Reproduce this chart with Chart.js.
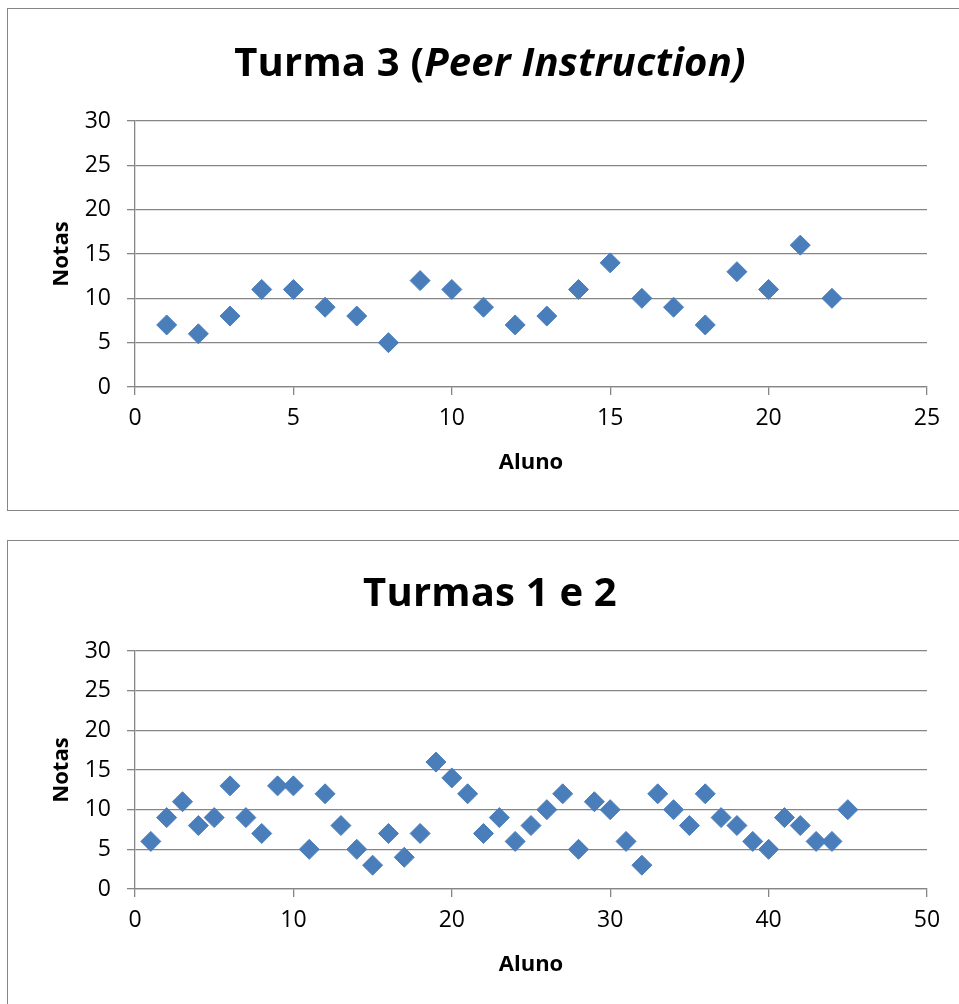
<!DOCTYPE html>
<html>
<head>
<meta charset="utf-8">
<script src="https://cdn.jsdelivr.net/npm/chart.js@4/dist/chart.umd.min.js"></script>
<style>
  html, body { margin: 0; padding: 0; background: #fff; width: 959px; height: 1004px; overflow: hidden; }
  .box { position: absolute; left: 7px; border: 1px solid #868686; background: #fff; width: 1000px; }
  #box1 { top: 8px; height: 501px; }
  #box2 { top: 540px; height: 480px; }
  .box canvas { position: absolute; left: 0; top: 0; }
  .title { position: absolute; left: 0; width: 980px; text-align: center; font-family: "Open Sans", sans-serif; font-weight: 700; font-size: 40px; color: #000; line-height: 1; white-space: nowrap; letter-spacing: 0.2px; }
  #t1 { top: 41px; }
  #t2 { top: 571px; }
</style>
</head>
<body>
<div class="box" id="box1"><canvas id="c1" width="1000" height="500"></canvas></div>
<div class="box" id="box2"><canvas id="c2" width="1000" height="463"></canvas></div>
<div class="title" id="t1">Turma 3 (<i>Peer Instruction)</i></div>
<div class="title" id="t2">Turmas 1 e 2</div>
<script>
// Turma 3 (Peer Instruction)
const turma3Alunos = [1,2,3,4,5,6,7,8,9,10,11,12,13,14,15,16,17,18,19,20,21,22];
const turma3Notas  = [7,6,8,11,11,9,8,5,12,11,9,7,8,11,14,10,9,7,13,11,16,10];

// Turmas 1 e 2
const turmas12Alunos = [1,2,3,4,5,6,7,8,9,10,11,12,13,14,15,16,17,18,19,20,21,22,23,24,25,26,27,28,29,30,31,32,33,34,35,36,37,38,39,40,41,42,43,44,45];
const turmas12Notas  = [6,9,11,8,9,13,9,7,13,13,5,12,8,5,3,7,4,7,16,14,12,7,9,6,8,10,12,5,11,10,6,3,12,10,8,12,9,8,6,5,9,8,6,6,10];

const yTicks = { min: 0, max: 30, step: 5 };
const xTicks1 = { min: 0, max: 25, step: 5 };
const xTicks2 = { min: 0, max: 50, step: 10 };

const GRID = '#868686';
const MARK = '#4a7ebb';
const TICKFONT = { family: '"Open Sans", sans-serif', size: 23 };
const AXFONT = { family: '"Open Sans", sans-serif', size: 22, weight: '700' };

function makeChart(id, xs, ys, xt, padTop, padBottom) {
  const pts = xs.map((x, i) => ({ x: x, y: ys[i] }));
  return new Chart(document.getElementById(id), {
    type: 'scatter',
    data: { datasets: [{ data: pts, pointStyle: 'rectRot', pointRadius: 10, pointHoverRadius: 10,
      backgroundColor: MARK, borderColor: MARK, borderWidth: 1 }] },
    options: {
      responsive: false, animation: false,
      layout: { padding: { left: 0, right: 81, top: padTop, bottom: padBottom } },
      plugins: { legend: { display: false }, tooltip: { enabled: false }, title: { display: false } },
      scales: {
        x: {
          type: 'linear', min: xt.min, max: xt.max,
          ticks: { stepSize: xt.step, color: '#000', font: TICKFONT, padding: 10, maxRotation: 0 },
          grid: { drawOnChartArea: false, drawTicks: true, tickLength: 8, color: GRID, lineWidth: 1.3 },
          border: { display: true, color: GRID, width: 1.3 },
          title: { display: true, text: 'Aluno', color: '#000', font: AXFONT, padding: { top: 0, bottom: 11 } },
          afterFit: s => { s.height = 100; }
        },
        y: {
          type: 'linear', min: yTicks.min, max: yTicks.max,
          ticks: { stepSize: yTicks.step, color: '#000', font: TICKFONT, padding: 16 },
          grid: { drawTicks: true, tickLength: 8, color: GRID, lineWidth: 1.3 },
          border: { display: true, color: GRID, width: 1.3 },
          title: { display: true, text: 'Notas', color: '#000', font: AXFONT, padding: { top: 41, bottom: 0 } },
          afterFit: s => { s.width = 127; }
        }
      }
    }
  });
}

makeChart('c1', turma3Alunos, turma3Notas, xTicks1, 112, 22);
makeChart('c2', turmas12Alunos, turmas12Notas, xTicks2, 110, 15);
</script>
</body>
</html>
